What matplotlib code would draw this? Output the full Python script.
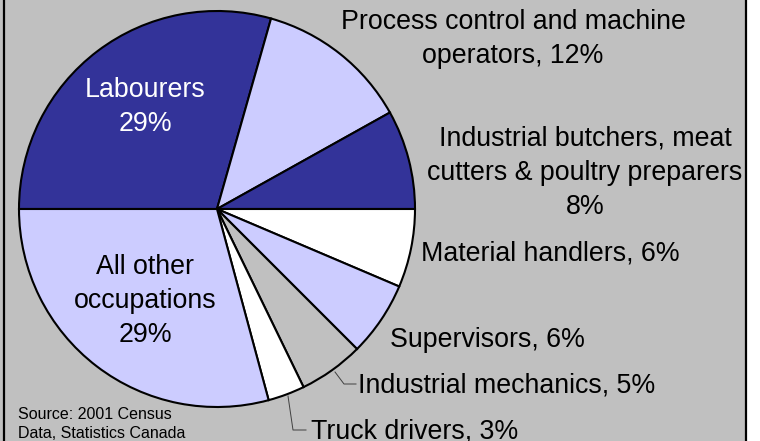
import matplotlib
matplotlib.use("Agg")
import matplotlib.pyplot as plt
from matplotlib.patches import Rectangle

labels = ["Labourers", "Process control and machine operators",
          "Industrial butchers, meat cutters & poultry preparers",
          "Material handlers", "Supervisors", "Industrial mechanics",
          "Truck drivers", "All other occupations"]
values = [29.4, 12.5, 8.1, 6.4, 6.1, 5.3, 3.0, 29.2]
shown_pct = [29, 12, 8, 6, 6, 5, 3, 29]
colors = ["#333399", "#CCCCFF", "#333399", "#FFFFFF", "#CCCCFF", "#C0C0C0", "#FFFFFF", "#CCCCFF"]

W, H = 760, 441
fig = plt.figure(figsize=(W / 100, H / 100), dpi=100, facecolor="white")
ax = fig.add_axes([0, 0, 1, 1])

def Y(py):
    return H - py

ax.add_patch(Rectangle((0, 0), 746, H, facecolor="#C0C0C0", edgecolor="none", zorder=0))
ax.plot([4, 4], [0, H], color="black", lw=1.6, zorder=1)
ax.plot([746, 746], [0, H], color="black", lw=1.6, zorder=1)

ax.pie(values, colors=colors, startangle=180, counterclock=False,
       center=(217, Y(209)), radius=198, frame=True,
       wedgeprops=dict(edgecolor="black", linewidth=1.5, zorder=2))
ax.set_xlim(0, W)
ax.set_ylim(0, H)
ax.set_aspect("auto")
ax.axis("off")

font = "Liberation Sans"
fs = 19.3
ls = 1.42
d = 3
ax.text(145, Y(107), f"Labourers\n{shown_pct[0]}%", color="white", fontsize=fs,
        ha="center", va="center", family=font, linespacing=ls, zorder=5)
ax.text(145, Y(301), f"All other\noccupations\n{shown_pct[7]}%", color="black", fontsize=fs,
        ha="center", va="center", family=font, linespacing=ls, zorder=5)
ax.text(513, Y(39), f"Process control and machine\noperators, {shown_pct[1]}%", fontsize=fs,
        ha="center", va="center", family=font, linespacing=ls, zorder=5)
ax.text(585, Y(173), f"Industrial butchers, meat\ncutters & poultry preparers\n{shown_pct[2]}%",
        fontsize=fs, ha="center", va="center", family=font, linespacing=ls, zorder=5)
ax.text(421, Y(250 + d), f"Material handlers, {shown_pct[3]}%", fontsize=fs,
        ha="left", va="center", family=font, zorder=5)
ax.text(390, Y(337 + d), f"Supervisors, {shown_pct[4]}%", fontsize=fs,
        ha="left", va="center", family=font, zorder=5)
ax.text(358, Y(382 + d), f"Industrial mechanics, {shown_pct[5]}%", fontsize=fs,
        ha="left", va="center", family=font, zorder=5)
ax.text(311, Y(429 + 2), f"Truck drivers, {shown_pct[6]}%", fontsize=fs,
        ha="left", va="center", family=font, zorder=5)

# leader lines
ax.plot([335, 344, 356], [Y(372), Y(384), Y(384)], color="#404040", lw=0.7, zorder=4)
ax.plot([288, 293, 306], [Y(396), Y(430), Y(430)], color="#404040", lw=0.7, zorder=4)

ax.text(18, Y(424), "Source: 2001 Census\nData, Statistics Canada", fontsize=11.5,
        ha="left", va="center", family=font, linespacing=1.3, zorder=5)

fig.savefig("out.png", dpi=100, facecolor="white")
